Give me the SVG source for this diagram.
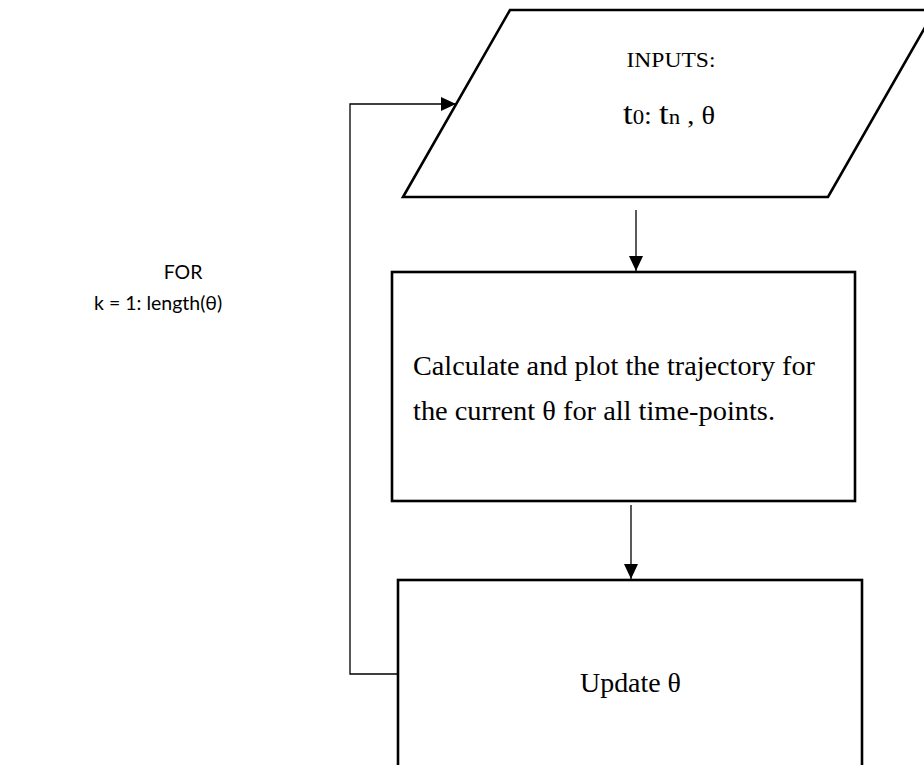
<svg xmlns="http://www.w3.org/2000/svg" width="924" height="765" viewBox="0 0 924 765">
<style>
.shape{fill:#fff;stroke:#000;stroke-width:2.6}
.conn{fill:none;stroke:#000;stroke-width:1.3}
.serif{font-family:"Liberation Serif","Times New Roman",serif;fill:#000}
.sans{font-family:"Lato","Liberation Sans",sans-serif;fill:#000;font-size:19.5px}
</style>
<defs>
<marker id="ah" markerUnits="userSpaceOnUse" markerWidth="16" markerHeight="14" refX="15" refY="7" orient="auto">
<path d="M0,0 L15,7 L0,14 Z" fill="#000"/>
</marker>
</defs>
<rect width="924" height="765" fill="#fff"/>
<g id="inputs">
<polygon class="shape" points="510,10 935,10 828,197 403,197"/>
<text class="serif" x="671" y="67" font-size="21" text-anchor="middle" textLength="89" lengthAdjust="spacingAndGlyphs">INPUTS:</text>
<text class="serif" x="623" y="124" font-size="26" textLength="92" lengthAdjust="spacingAndGlyphs"><tspan font-size="32">t</tspan><tspan font-size="21">0</tspan>: <tspan font-size="32">t</tspan><tspan font-size="21">n</tspan> , θ</text>
</g>
<g id="calc">
<rect class="shape" x="392" y="272" width="463" height="229"/>
<text class="serif" x="413" y="375" font-size="27" textLength="402" lengthAdjust="spacingAndGlyphs">Calculate and plot the trajectory for</text>
<text class="serif" x="413" y="420" font-size="27" textLength="362" lengthAdjust="spacingAndGlyphs">the current θ for all time-points.</text>
</g>
<g id="update">
<rect class="shape" x="398" y="580" width="464" height="200"/>
<text class="serif" x="580" y="692" font-size="27" textLength="101" lengthAdjust="spacingAndGlyphs">Update θ</text>
</g>
<g id="loop-label">
<text class="sans" x="183" y="279" text-anchor="middle">FOR</text>
<text class="sans" x="94" y="310">k = 1: length(θ)</text>
</g>
<g id="connectors">
<line class="conn" x1="636" y1="210" x2="636" y2="271" marker-end="url(#ah)"/>
<line class="conn" x1="631" y1="505" x2="631" y2="579" marker-end="url(#ah)"/>
<polyline class="conn" points="397,674 350,674 350,104 456,104" marker-end="url(#ah)"/>
</g>
</svg>
